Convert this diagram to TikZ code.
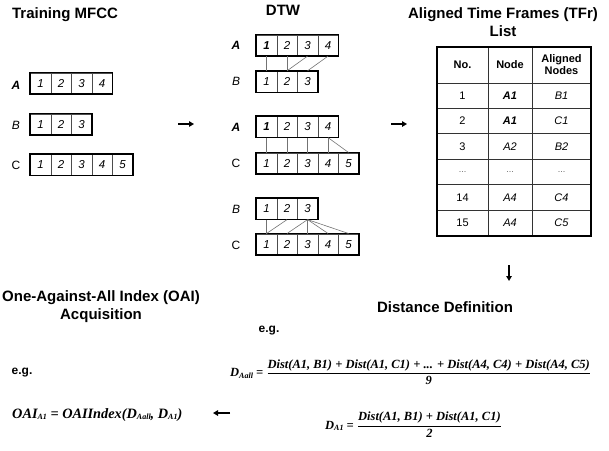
\documentclass[tikz,border=0pt]{standalone}
\usepackage{fontspec}
\setmainfont{Liberation Sans}
\newfontfamily\eqf{Liberation Serif}
\usetikzlibrary{arrows.meta}
\newcommand\sbx[1]{\raisebox{-0.3ex}{\fontsize{8}{8}\selectfont #1}}
\newcommand\cellrow[5]{%
  \foreach \i in {1,...,#4}{%
    \node[cell] (#1\i) at ({#2+(\i-1)*20.5},#3) {\ifnum\i=1 #5\else\i\fi};}
  \draw[outline] (#11.north west) rectangle (#1#4.south east);
}
\begin{document}
\begin{tikzpicture}[
 x=1pt,y=-1pt,
 cell/.style={draw=black!70, line width=0.6pt, minimum width=20.5pt, minimum height=21pt, inner sep=0pt, anchor=north west, font=\fontsize{11.5}{11.5}\selectfont\itshape},
 outline/.style={line width=1.6pt},
 title/.style={font=\fontsize{15}{18}\selectfont\bfseries, align=center},
 lab/.style={font=\fontsize{12}{12}\selectfont},
 link/.style={draw=black!55, line width=0.6pt},
 flow/.style={-{Triangle[length=5pt,width=5.5pt]}, line width=1.6pt},
 tgrid/.style={line width=0.7pt, draw=black!80},
 tcell/.style={font=\fontsize{11}{12}\selectfont, align=center},
 eq/.style={font=\eqf\fontsize{12.5}{14}\selectfont\bfseries\itshape, inner sep=0pt},
 eg/.style={font=\fontsize{12}{12}\selectfont\bfseries},
]
\useasboundingbox (0,0) rectangle (609,450);

% titles
\node[title] (ttrain) at (65,15) {Training MFCC};
\node[title] (tdtw) at (283,10.5) {DTW};
\node[title] (ttfr) at (503,22.5) {Aligned Time Frames (TFr)\\List};
\node[title] (toai) at (101,306.5) {One-Against-All Index (OAI)\\Acquisition};
\node[title] (tdist) at (445,307) {Distance Definition};

% training MFCC
\cellrow{mA}{30}{72.5}{4}{1}
\cellrow{mB}{30}{113.5}{3}{1}
\cellrow{mC}{30}{154}{5}{1}
\node[lab,font=\fontsize{12}{12}\selectfont\bfseries\itshape] (lmA) at (16,85) {A};
\node[lab,font=\fontsize{12}{12}\selectfont\itshape] (lmB) at (16,125) {B};
\node[lab] (lmC) at (16,165) {C};

% DTW
\cellrow{pA}{256}{34.5}{4}{\bfseries 1}
\cellrow{pB}{256}{70.8}{3}{1}
\cellrow{qA}{256}{116}{4}{\bfseries 1}
\cellrow{qC}{256}{152.5}{5}{1}
\cellrow{rB}{256}{198}{3}{1}
\cellrow{rC}{256}{233.5}{5}{1}
\node[lab,font=\fontsize{12}{12}\selectfont\bfseries\itshape] (lpA) at (236,45.5) {A};
\node[lab,font=\fontsize{12}{12}\selectfont\itshape] (lpB) at (236,81.5) {B};
\node[lab,font=\fontsize{12}{12}\selectfont\bfseries\itshape] (lqA) at (236,127.5) {A};
\node[lab] (lqC) at (236,163.5) {C};
\node[lab,font=\fontsize{12}{12}\selectfont\itshape] (lrB) at (236,209) {B};
\node[lab] (lrC) at (236,245) {C};

\draw[link] (pA1.south) -- (pB1.north);
\draw[link] (pA2.south) -- (pB2.north);
\draw[link] (pA3.south) -- (pB2.north);
\draw[link] (pA4.south) -- (pB3.north);
\draw[link] (qA1.south) -- (qC1.north);
\draw[link] (qA2.south) -- (qC2.north);
\draw[link] (qA3.south) -- (qC3.north);
\draw[link] (qA4.south) -- (qC4.north);
\draw[link] (qA4.south) -- (qC5.north);
\draw[link] (rB1.south) -- (rC1.north);
\draw[link] (rB2.south) -- (rC1.north);
\draw[link] (rB3.south) -- (rC2.north);
\draw[link] (rB3.south) -- (rC3.north);
\draw[link] (rB3.south) -- (rC4.north);
\draw[link] (rB3.south) -- (rC5.north);

% table
\foreach \yy in {83,108,133.5,159,184.5,210} \draw[tgrid] (437,\yy) -- (591,\yy);
\foreach \xx in {488,532} \draw[tgrid] (\xx,47) -- (\xx,236);
\draw[outline] (437,47) rectangle (591,236);
\node[tcell,font=\fontsize{11}{12}\selectfont\bfseries] (h1) at (462.5,65) {No.};
\node[tcell,font=\fontsize{11}{12}\selectfont\bfseries] (h2) at (510,65) {Node};
\node[tcell,font=\fontsize{11}{12}\selectfont\bfseries] (h3) at (561.5,65) {Aligned\\Nodes};
\node[tcell] (n1) at (462.5,95.5) {1};
\node[tcell] (n2) at (462.5,120.75) {2};
\node[tcell] (n3) at (462.5,146.25) {3};
\node[tcell,text=black!60,font=\fontsize{9}{9}\selectfont] (n4) at (462.5,171.75) {...};
\node[tcell] (n5) at (462.5,197.25) {14};
\node[tcell] (n6) at (462.5,223) {15};
\node[tcell,font=\fontsize{11}{12}\selectfont\bfseries\itshape] (d1) at (510,95.5) {A1};
\node[tcell,font=\fontsize{11}{12}\selectfont\bfseries\itshape] (d2) at (510,120.75) {A1};
\node[tcell,font=\fontsize{11}{12}\selectfont\itshape] (d3) at (510,146.25) {A2};
\node[tcell,text=black!60,font=\fontsize{9}{9}\selectfont] (d4) at (510,171.75) {...};
\node[tcell,font=\fontsize{11}{12}\selectfont\itshape] (d5) at (510,197.25) {A4};
\node[tcell,font=\fontsize{11}{12}\selectfont\itshape] (d6) at (510,223) {A4};
\node[tcell,font=\fontsize{11}{12}\selectfont\itshape] (g1) at (561.5,95.5) {B1};
\node[tcell,font=\fontsize{11}{12}\selectfont\itshape] (g2) at (561.5,120.75) {C1};
\node[tcell,font=\fontsize{11}{12}\selectfont\itshape] (g3) at (561.5,146.25) {B2};
\node[tcell,text=black!60,font=\fontsize{9}{9}\selectfont] (g4) at (561.5,171.75) {...};
\node[tcell,font=\fontsize{11}{12}\selectfont\itshape] (g5) at (561.5,197.25) {C4};
\node[tcell,font=\fontsize{11}{12}\selectfont\itshape] (g6) at (561.5,223) {C5};

% arrows
\coordinate (a1s) at (178,124); \coordinate (a1e) at (194,124);
\coordinate (a2s) at (391,124); \coordinate (a2e) at (407,124);
\coordinate (a3s) at (509,265); \coordinate (a3e) at (509,281);
\coordinate (a4s) at (230,413); \coordinate (a4e) at (213,413);
\draw[flow] (a1s) -- (a1e);
\draw[flow] (a2s) -- (a2e);
\draw[flow] (a3s) -- (a3e);
\draw[flow] (a4s) -- (a4e);

% e.g. labels
\node[eg] (eg1) at (269,331) {e.g.};
\node[eg] (eg2) at (22,373) {e.g.};

% equations
\node[eq, anchor=base west] (eqall) at (230,376.5) {D\sbx{Aall} = $\displaystyle\frac{\mbox{Dist(A1, B1) + Dist(A1, C1) + ... + Dist(A4, C4) + Dist(A4, C5)}}{\mbox{9}}$};
\node[eq, anchor=base west] (eqa1) at (325,429) {D\sbx{A1} = $\displaystyle\frac{\mbox{Dist(A1, B1) + Dist(A1, C1)}}{\mbox{2}}$};
\node[eq, anchor=base west, font=\eqf\fontsize{14.3}{16}\selectfont\bfseries\itshape] (eqoai) at (12,418) {OAI\sbx{A1} = OAIIndex(D\sbx{Aall}, D\sbx{A1})};
\end{tikzpicture}
\end{document}
